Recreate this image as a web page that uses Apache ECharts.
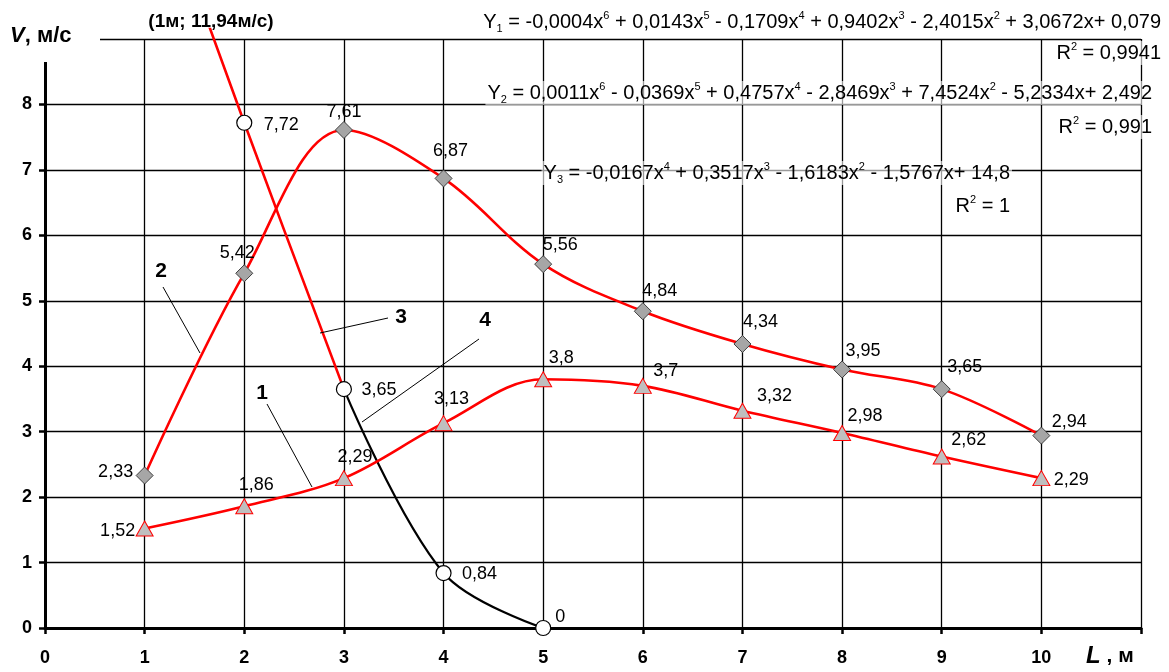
<!DOCTYPE html>
<html><head><meta charset="utf-8">
<script src="https://cdn.jsdelivr.net/npm/echarts@6/dist/echarts.min.js"></script>
<style>html,body{margin:0;padding:0;background:#fff}#c{width:1169px;height:672px}</style>
</head><body><div id="c"></div>
<script>
// ---- data ----
const xValues = [1, 2, 3, 4, 5, 6, 7, 8, 9, 10];
const series1 = [1.52, 1.86, 2.29, 3.13, 3.8, 3.7, 3.32, 2.98, 2.62, 2.29];
const series2 = [2.33, 5.42, 7.61, 6.87, 5.56, 4.84, 4.34, 3.95, 3.65, 2.94];
const series3x = [1, 2, 3, 4, 5];
const series3 = [11.94, 7.72, 3.65, 0.84, 0];
const xTickLabels = ['0', '1', '2', '3', '4', '5', '6', '7', '8', '9', '10', ''];
const yTickLabels = ['0', '1', '2', '3', '4', '5', '6', '7', '8', ''];

// ---- label placement (style) ----
const off1 = [[-27,3],[12,-21],[11,-21],[8,-24],[18,-21],[23,-15],[32,-15],[23,-17],[27,-17],[30,2]];
const off2 = [[-29,-3],[-7,-20],[0,-18],[7,-27],[17,-19],[17,-20],[18,-22],[21,-18],[23,-22],[28,-14]];
const off3 = [[0,0],[37,2],[35,1],[36,1],[17,-11]];

const FONT = "'Liberation Sans', Arial, sans-serif";
const fmt = v => String(v).replace('.', ',');

function pts(xs, ys, offs, from, to) {
  const out = [];
  for (let i = from; i < to; i++) {
    out.push({
      value: [xs[i], ys[i]],
      label: offs ? { offset: offs[i], show: !(ys[i] > 9.2) } : undefined
    });
  }
  return out;
}

const labelBase = {
  show: true, position: 'inside', align: 'center', verticalAlign: 'middle',
  color: '#000', fontSize: 18, fontFamily: FONT, textBorderWidth: 0, opacity: 1,
  formatter: p => fmt(p.value[1])
};

const sp = (t) => '{sp|' + t + '}';
const sb = (t) => '{sb|' + t + '}';
const m = (t) => '{m|' + t + '}';
const eqRich = {
  m: { fontSize: 20, fontFamily: FONT, color: '#000', lineHeight: 24 },
  sp: { fontSize: 11, fontFamily: FONT, color: '#000', lineHeight: 12, verticalAlign: 'top' },
  sb: { fontSize: 11, fontFamily: FONT, color: '#000', lineHeight: 12, verticalAlign: 'bottom' }
};
const eqBg = 'rgba(255,255,255,0.6)';

const eq1 = m('Y') + sb('1') + m(' = -0,0004x') + sp('6') + m(' + 0,0143x') + sp('5') + m(' - 0,1709x') + sp('4') +
  m(' + 0,9402x') + sp('3') + m(' - 2,4015x') + sp('2') + m(' + 3,0672x+ 0,079');
const eq2 = m('Y') + sb('2') + m(' = 0,0011x') + sp('6') + m(' - 0,0369x') + sp('5') + m(' + 0,4757x') + sp('4') +
  m(' - 2,8469x') + sp('3') + m(' + 7,4524x') + sp('2') + m(' - 5,2334x+ 2,492');
const eq3 = m('Y') + sb('3') + m(' = -0,0167x') + sp('4') + m(' + 0,3517x') + sp('3') + m(' - 1,6183x') + sp('2') +
  m(' - 1,5767x+ 14,8');
const r1 = m('R') + sp('2') + m(' = 0,9941');
const r2 = m('R') + sp('2') + m(' = 0,991');
const r3 = m('R') + sp('2') + m(' = 1');

function eqText(x, y, text, align) {
  return { type: 'text', x: x, y: y, z: 50,
    style: { text: text, rich: eqRich, align: align, verticalAlign: 'middle', backgroundColor: eqBg, padding: [0, 2] } };
}
function numText(x, y, t) {
  return { type: 'text', x: x, y: y, z: 50,
    style: { text: t, fontSize: 21, fontWeight: 'bold', fontFamily: FONT, fill: '#000', align: 'center', verticalAlign: 'middle' } };
}
function leader(x1, y1, x2, y2) {
  return { type: 'line', z: 40, shape: { x1, y1, x2, y2 }, style: { stroke: '#000', lineWidth: 1 } };
}

const gridA = { left: 45, right: 28, top: 39, bottom: 44, outerBoundsMode: 'none', containLabel: false };
const gridB = { left: 45, right: 28, top: 29, bottom: 44, outerBoundsMode: 'none', containLabel: false };
const yMaxB = 9 * (672 - 44 - 29) / (672 - 44 - 39);

const axisLabelStyle = { fontSize: 18, fontWeight: 'bold', color: '#000', fontFamily: FONT };

const option = {
  backgroundColor: '#fff',
  animation: false,
  grid: [gridA, gridB],
  xAxis: [
    { type: 'value', gridIndex: 0, min: 0, max: 11, interval: 1,
      axisLine: { show: true, onZero: false, lineStyle: { color: '#000', width: 3 } },
      axisTick: { show: true, length: 6, lineStyle: { color: '#000', width: 2.5 } },
      axisLabel: Object.assign({ margin: 21, formatter: v => xTickLabels[Math.round(v)] ?? '' }, axisLabelStyle),
      splitLine: { show: true, lineStyle: { color: '#000', width: 1.3 } } },
    { type: 'value', gridIndex: 1, min: 0, max: 11, show: false }
  ],
  yAxis: [
    { type: 'value', gridIndex: 0, min: 0, max: 9, interval: 1,
      axisLine: { show: true, onZero: false, lineStyle: { color: '#000', width: 3 } },
      axisTick: { show: true, length: 6, lineStyle: { color: '#000', width: 2.5 } },
      axisLabel: Object.assign({ margin: 13, formatter: v => yTickLabels[Math.round(v)] ?? '' }, axisLabelStyle),
      splitLine: { show: true, lineStyle: { color: '#000', width: 1.3 } } },
    { type: 'value', gridIndex: 1, min: 0, max: yMaxB, show: false }
  ],
  series: [
    { name: '1', type: 'line', xAxisIndex: 1, yAxisIndex: 1, smooth: 0.35, z: 3,
      data: pts(xValues, series1, off1, 0, xValues.length),
      lineStyle: { color: '#FF0000', width: 2.6 },
      symbol: 'triangle', symbolSize: [17, 15],
      itemStyle: { color: '#BFBFBF', borderColor: '#FF0000', borderWidth: 1, opacity: 1 },
      label: labelBase },
    { name: '2', type: 'line', xAxisIndex: 1, yAxisIndex: 1, smooth: 0.35, z: 3,
      data: pts(xValues, series2, off2, 0, xValues.length),
      lineStyle: { color: '#FF0000', width: 2.6 },
      symbol: 'diamond', symbolSize: [17, 17],
      itemStyle: { color: '#A6A6A6', borderColor: '#404040', borderWidth: 1, opacity: 1 },
      label: labelBase },
    { name: '3a', type: 'line', xAxisIndex: 1, yAxisIndex: 1, smooth: 0.35, z: 2,
      data: pts(series3x, series3, null, 0, 3),
      lineStyle: { color: '#FF0000', width: 2.6 }, symbol: 'none' },
    { name: '3b', type: 'line', xAxisIndex: 1, yAxisIndex: 1, smooth: 0.35, z: 2,
      data: pts(series3x, series3, null, 2, 5),
      lineStyle: { color: '#000', width: 2.2 }, symbol: 'none' },
    { name: '3', type: 'scatter', xAxisIndex: 1, yAxisIndex: 1, z: 4, clip: true,
      data: pts(series3x, series3, off3, 0, 5),
      symbol: 'circle', symbolSize: 15,
      itemStyle: { color: '#fff', borderColor: '#000', borderWidth: 1.2, opacity: 1 },
      label: labelBase }
  ],
  graphic: [
    { type: 'rect', z: 30, shape: { x: 0, y: 0, width: 100, height: 62 }, style: { fill: '#fff' } },
    { type: 'text', x: 10, y: 36, z: 50, style: {
        text: '{v|V}{r|, м/с}', verticalAlign: 'middle',
        rich: { v: { fontSize: 22, fontWeight: 'bold', fontStyle: 'italic', fontFamily: FONT, color: '#000' },
                r: { fontSize: 22, fontWeight: 'bold', fontFamily: FONT, color: '#000' } } } },
    { type: 'text', x: 1086, y: 656, z: 50, style: {
        text: '{v|L}{r| , м}', verticalAlign: 'middle',
        rich: { v: { fontSize: 24, fontWeight: 'bold', fontStyle: 'italic', fontFamily: FONT, color: '#000' },
                r: { fontSize: 21, fontWeight: 'bold', fontFamily: FONT, color: '#000' } } } },
    { type: 'text', x: 211, y: 22, z: 50, style: {
        text: '(1м; 11,94м/с)', fontSize: 19, fontWeight: 'bold', fontFamily: FONT, fill: '#000',
        align: 'center', verticalAlign: 'middle' } },
    eqText(1163, 22, eq1, 'right'),
    eqText(1163, 53, r1, 'right'),
    eqText(1154, 93, eq2, 'right'),
    eqText(1154, 127, r2, 'right'),
    eqText(1012, 173, eq3, 'right'),
    eqText(1012, 206, r3, 'right'),
    numText(161, 271, '2'), leader(163, 287, 200, 353),
    numText(401, 317, '3'), leader(388, 318, 320, 333),
    numText(485, 320, '4'), leader(479, 339, 362, 422),
    numText(262, 393, '1'), leader(267, 404, 312, 487)
  ]
};

const chart = echarts.init(document.getElementById('c'), null, { renderer: 'canvas' });
chart.setOption(option);
</script>
</body></html>
